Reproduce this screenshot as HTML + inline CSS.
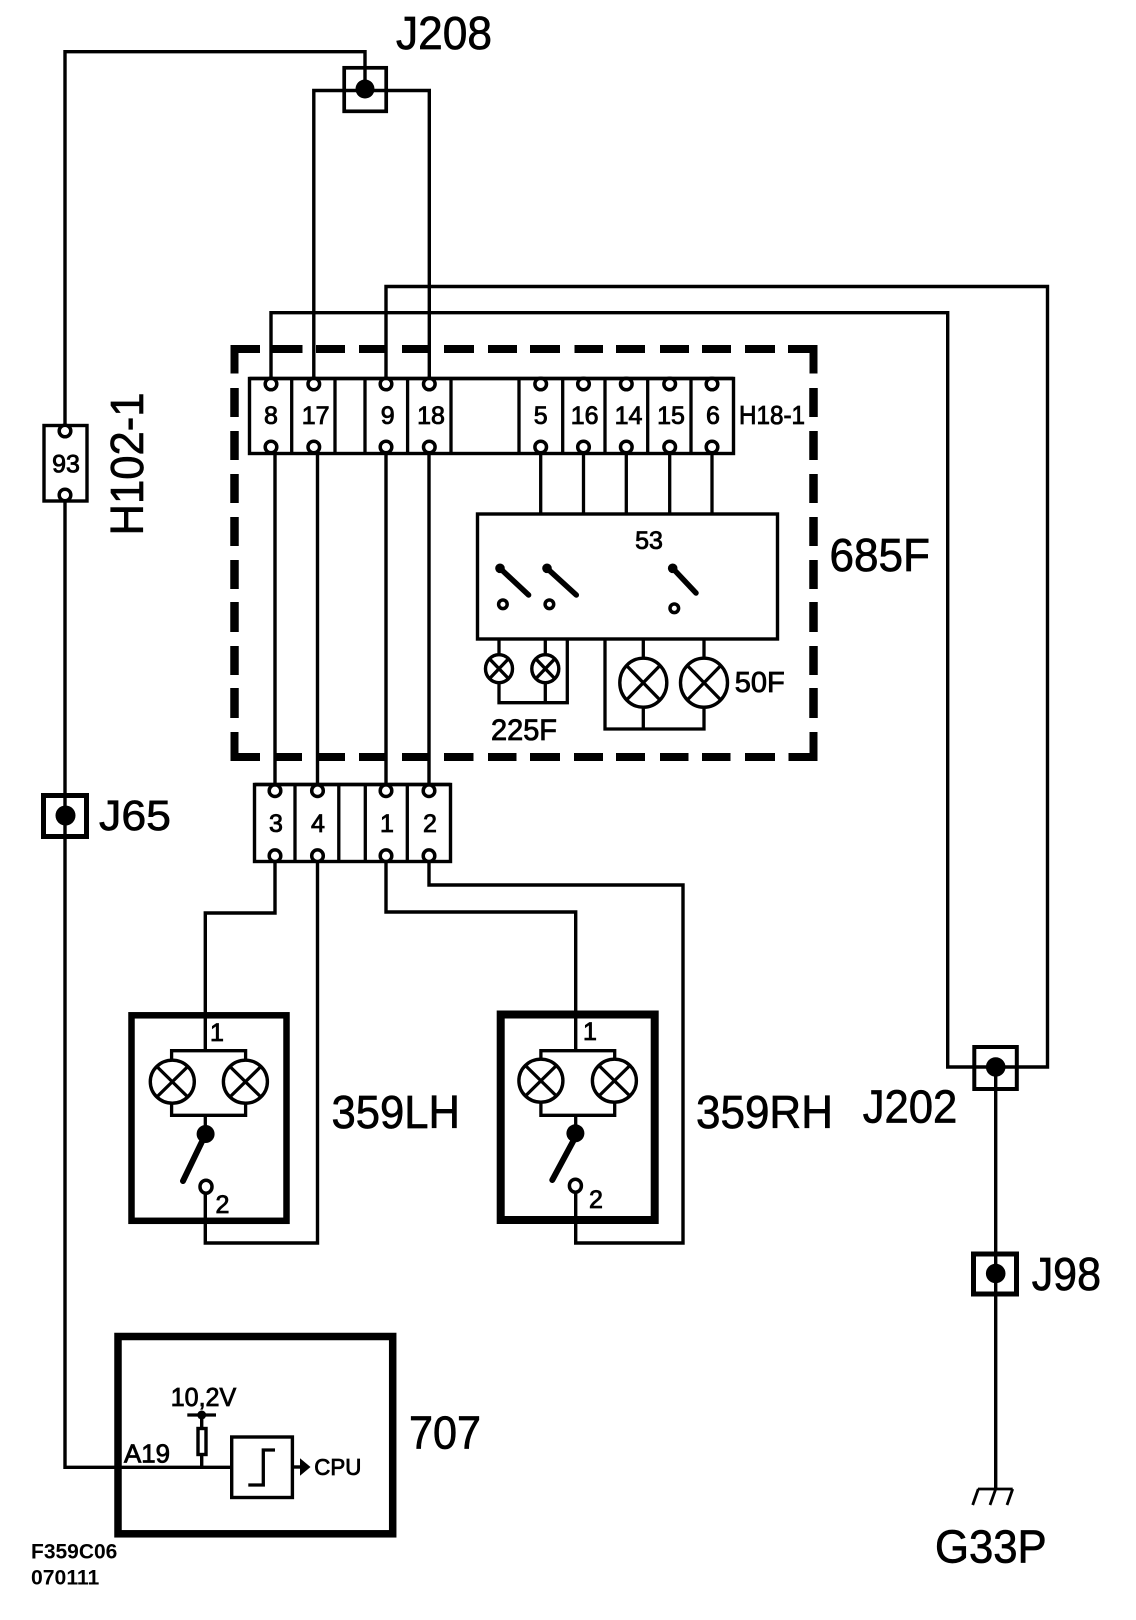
<!DOCTYPE html>
<html lang="en">
<head>
<meta charset="utf-8">
<title>F359C06</title>
<style>
html,body{margin:0;padding:0;background:#fff;width:1136px;height:1620px;overflow:hidden}
svg{display:block}
.w{fill:none;stroke:#000;stroke-width:3.4;stroke-linejoin:miter}
.t{fill:none;stroke:#000;stroke-width:3.3}
.p{fill:#fff;stroke:#000;stroke-width:3.5}
.b{fill:#fff;stroke:#000;stroke-width:3.4}
.k{fill:#000;stroke:none}
text{font-family:"Liberation Sans",sans-serif;fill:#000;stroke:#000;stroke-width:.85}
.n{font-size:25px;text-anchor:middle}
.big{font-size:46px;stroke-width:.7}
</style>
</head>
<body>
<svg xmlns="http://www.w3.org/2000/svg" width="1136" height="1620" viewBox="0 0 1136 1620">
<rect width="1136" height="1620" fill="#fff"/>

<!-- dashed boundary 685F -->
<path fill="none" stroke="#000" stroke-width="8" d="M260 349H234.500V373.500M272.500 349H302.500M316 349H345M359 349H386M402 349H431M444 349H474M488 349H517M530 349H560M574.500 349H603M616 349H645M660 349H689M702 349H731M745 349H775M788 349H813.500V373.500"/>
<path fill="none" stroke="#000" stroke-width="8.500" d="M234.500 388V417M234.500 431V460M234.500 474V503M234.500 517V546M234.500 560V589M234.500 602V632M234.500 646V675M234.500 688V718M813.500 388V417M813.500 431V460M813.500 474V503M813.500 517V546M813.500 560V589M813.500 602V632M813.500 646V675M813.500 688V718"/>
<path fill="none" stroke="#000" stroke-width="8" d="M234.500 732V757H260M276.500 757H302M317.500 757H345M359 757H387M402 757H428.500M444 757H473.500M488 757H516.500M530 757H560M574 757H603M616 757H645M660 757H688.500M702 757H730.500M745 757H775M788.500 757H813.500V732"/>

<!-- wires -->
<path class="w" d="M65 424V51.700H365V90"/>
<path class="w" d="M313.800 384V90.500H429.300V384"/>
<path class="w" d="M386 384V286.500H1047.500V1067H947.700V312.700H271V384"/>
<path class="w" d="M65 495V1467.300H230.500"/>
<path class="w" d="M275 447V790M317.500 447V790M386 447V790M429 447V790"/>
<path class="w" d="M275 855V913H205.300V1050.700M386 855V912H575.700V1050.700M429 855V885H683V1243H575.700V1186M317.500 855V1243H205.300V1186"/>
<path class="w" d="M995.700 1067V1488"/>
<path class="t" d="M540.700 447V513M583.500 447V513M626.300 447V513M669.700 447V513M712 447V513"/>

<!-- H18-1 connector -->
<rect x="249.500" y="378.500" width="484" height="75" class="b"/>
<path class="t" d="M291.700 378V454M335 378V454M365 378V454M407.600 378V454M451 378V454M519 378V454M562.700 378V454M605 378V454M647.700 378V454M691 378V454"/>
<g class="p">
<circle cx="271" cy="384" r="5.800"/><circle cx="313.800" cy="384" r="5.800"/><circle cx="386" cy="384" r="5.800"/><circle cx="429.300" cy="384" r="5.800"/><circle cx="540.700" cy="384" r="5.800"/><circle cx="583.500" cy="384" r="5.800"/><circle cx="626.300" cy="384" r="5.800"/><circle cx="669.700" cy="384" r="5.800"/><circle cx="712" cy="384" r="5.800"/>
<circle cx="271" cy="447" r="5.800"/><circle cx="313.800" cy="447" r="5.800"/><circle cx="386" cy="447" r="5.800"/><circle cx="429.300" cy="447" r="5.800"/><circle cx="540.700" cy="447" r="5.800"/><circle cx="583.500" cy="447" r="5.800"/><circle cx="626.300" cy="447" r="5.800"/><circle cx="669.700" cy="447" r="5.800"/><circle cx="712" cy="447" r="5.800"/>
</g>
<path class="w" d="M249.500 378.500H733.500"/>
<text class="n" x="271" y="424">8</text>
<text class="n" x="315.600" y="424">17</text>
<text class="n" x="387.700" y="424">9</text>
<text class="n" x="431" y="424">18</text>
<text class="n" x="540.700" y="424">5</text>
<text class="n" x="584.700" y="424">16</text>
<text class="n" x="628.500" y="424">14</text>
<text class="n" x="671" y="424">15</text>
<text class="n" x="713" y="424">6</text>
<text x="739" y="424" font-size="26" textLength="66" lengthAdjust="spacingAndGlyphs">H18-1</text>

<!-- module 53 -->
<rect x="477.500" y="514" width="300" height="125" class="b" style="fill:none"/>
<text class="n" x="649" y="549">53</text>
<g stroke="#000" stroke-width="5.500" stroke-linecap="round" fill="none">
<path d="M500 568.300L528.600 595M547 568.300L576.300 595M672.700 568.300L696 593"/>
</g>
<circle cx="500" cy="568.300" r="4.800" class="k"/><circle cx="547" cy="568.300" r="4.800" class="k"/><circle cx="672.700" cy="568.300" r="4.800" class="k"/>
<circle cx="502.900" cy="604.300" r="4.300" fill="#fff" stroke="#000" stroke-width="3.500"/><circle cx="549.400" cy="604.300" r="4.300" fill="#fff" stroke="#000" stroke-width="3.500"/><circle cx="674.300" cy="608.300" r="4.300" fill="#fff" stroke="#000" stroke-width="3.500"/>

<!-- 225F lamps -->
<path class="t" d="M499 639V702.700H567.300V639M545.300 639V702.700"/>
<g class="b"><ellipse cx="499" cy="668.700" rx="13.500" ry="14"/><ellipse cx="545.300" cy="668.700" rx="13.500" ry="14"/></g>
<path class="t" d="M489.500 658.800L508.500 678.600M508.500 658.800L489.500 678.600M535.800 658.800L554.800 678.600M554.800 658.800L535.800 678.600"/>
<!-- 50F lamps -->
<path class="t" d="M605 639V729H704V639M643.300 639V729"/>
<g class="b"><ellipse cx="643.300" cy="682.700" rx="23.500" ry="24.500"/><ellipse cx="704" cy="682.700" rx="23.500" ry="24.500"/></g>
<path class="t" d="M626.500 665.500L660 700M660 665.500L626.500 700M687.300 665.500L720.800 700M720.800 665.500L687.300 700"/>
<text x="734.700" y="692" font-size="29" textLength="50" lengthAdjust="spacingAndGlyphs">50F</text>
<text x="491" y="740" font-size="30" textLength="66" lengthAdjust="spacingAndGlyphs">225F</text>

<!-- lower connector -->
<rect x="254.500" y="784.500" width="196" height="77" class="b"/>
<path class="t" d="M295 784V862M338.800 784V862M365.300 784V862M407.300 784V862"/>
<g class="p">
<circle cx="275" cy="790.700" r="5.800"/><circle cx="317.500" cy="790.700" r="5.800"/><circle cx="386" cy="790.700" r="5.800"/><circle cx="429" cy="790.700" r="5.800"/>
<circle cx="275" cy="855.700" r="5.800"/><circle cx="317.500" cy="855.700" r="5.800"/><circle cx="386" cy="855.700" r="5.800"/><circle cx="429" cy="855.700" r="5.800"/>
</g>
<path class="w" d="M254.500 784.500H450.500"/>
<text class="n" x="276" y="832">3</text>
<text class="n" x="318" y="832">4</text>
<text class="n" x="387" y="832">1</text>
<text class="n" x="430" y="832">2</text>

<!-- J208 -->
<rect x="344.200" y="67.800" width="42" height="43.500" fill="none" stroke="#000" stroke-width="3.700"/>
<circle cx="365" cy="89" r="9.500" class="k"/>
<text class="big" x="396" y="49" textLength="96" lengthAdjust="spacingAndGlyphs">J208</text>

<!-- 93 / H102-1 -->
<rect x="44" y="425.500" width="43" height="75.500" class="b"/>
<circle cx="65" cy="431" r="5.800" class="p"/>
<circle cx="65" cy="495" r="5.800" class="p"/>
<text class="n" x="66" y="472.500">93</text>
<text class="big" transform="translate(143 535.500) rotate(-90)" textLength="143" lengthAdjust="spacingAndGlyphs">H102-1</text>

<!-- J65 -->
<rect x="43.500" y="795.500" width="43" height="41" fill="none" stroke="#000" stroke-width="5"/>
<circle cx="65.500" cy="815.500" r="10" class="k"/>
<text class="big" x="99" y="830" style="font-size:43px" textLength="72" lengthAdjust="spacingAndGlyphs">J65</text>

<!-- 359LH -->
<rect x="131.500" y="1015.300" width="155" height="205.500" fill="none" stroke="#000" stroke-width="6.500"/>
<path class="t" d="M171.600 1081V1050.700H245.600V1115.300H171.600V1081M205.300 1115.300V1134"/>
<g class="b"><ellipse cx="172.300" cy="1081.700" rx="22" ry="21.500"/><ellipse cx="245.400" cy="1081.700" rx="22" ry="21.500"/></g>
<path class="t" d="M156.800 1066.500L187.800 1097M187.800 1066.500L156.800 1097M229.900 1066.500L260.900 1097M260.900 1066.500L229.900 1097"/>
<circle cx="205.600" cy="1134" r="9" class="k"/>
<path d="M201.800 1142L183 1181" stroke="#000" stroke-width="6" stroke-linecap="round"/>
<ellipse cx="206" cy="1186.700" rx="6" ry="6.500" class="p"/>
<text class="n" x="217" y="1041">1</text>
<text class="n" x="222.500" y="1213">2</text>
<text class="big" x="331.500" y="1128" textLength="128.500" lengthAdjust="spacingAndGlyphs">359LH</text>

<!-- 359RH -->
<rect x="500.700" y="1014.500" width="154" height="205.500" fill="none" stroke="#000" stroke-width="8"/>
<path class="t" d="M540.900 1080V1050.700H614.700V1115.300H540.900V1080M575.700 1115.300V1133"/>
<g class="b"><ellipse cx="540.900" cy="1080.700" rx="22" ry="21.500"/><ellipse cx="614.400" cy="1080.700" rx="22" ry="21.500"/></g>
<path class="t" d="M525.400 1065.500L556.400 1096M556.400 1065.500L525.400 1096M598.900 1065.500L629.900 1096M629.900 1065.500L598.900 1096"/>
<circle cx="575.400" cy="1133.300" r="9" class="k"/>
<path d="M573.800 1140L552.300 1180" stroke="#000" stroke-width="6" stroke-linecap="round"/>
<ellipse cx="575.400" cy="1185.700" rx="6" ry="6.500" class="p"/>
<text class="n" x="590" y="1040">1</text>
<text class="n" x="596" y="1208">2</text>
<text class="big" x="696" y="1128" textLength="137" lengthAdjust="spacingAndGlyphs">359RH</text>

<!-- 707 -->
<rect x="118" y="1336.500" width="274.700" height="197.300" fill="none" stroke="#000" stroke-width="7.500"/>
<rect x="231.700" y="1437" width="60.700" height="60.500" class="b"/>
<path class="t" d="M248.300 1485H263.300V1450H275"/>
<path class="w" d="M292 1467H301"/>
<path class="k" d="M300 1458.300L310.500 1467L300 1475.700Z"/>
<path class="w" d="M201.700 1467V1455M201.700 1427V1415"/>
<rect x="198" y="1428.500" width="8" height="26" class="b"/>
<path class="t" d="M187.300 1415H216"/>
<circle cx="201.700" cy="1415" r="4.500" class="k"/>
<text x="170.700" y="1406" font-size="26" textLength="65.500" lengthAdjust="spacingAndGlyphs">10,2V</text>
<text x="124" y="1462.700" font-size="26" textLength="46" lengthAdjust="spacingAndGlyphs">A19</text>
<text x="314.300" y="1475" font-size="23" textLength="47" lengthAdjust="spacingAndGlyphs">CPU</text>
<text class="big" x="409" y="1448.300" textLength="72" lengthAdjust="spacingAndGlyphs">707</text>
<text x="31" y="1558.300" font-size="21" font-weight="bold" style="stroke-width:0" textLength="86.300" lengthAdjust="spacingAndGlyphs">F359C06</text>
<text x="31" y="1584.300" font-size="21" font-weight="bold" style="stroke-width:0" textLength="68.300" lengthAdjust="spacingAndGlyphs">070111</text>

<!-- J202 / J98 / G33P -->
<rect x="974.300" y="1047" width="42.500" height="42" fill="none" stroke="#000" stroke-width="4"/>
<circle cx="995.700" cy="1067" r="9.800" class="k"/>
<text class="big" x="862.700" y="1122.500" textLength="94.600" lengthAdjust="spacingAndGlyphs">J202</text>
<rect x="973.500" y="1254" width="43" height="40" fill="none" stroke="#000" stroke-width="5"/>
<circle cx="995.700" cy="1273.500" r="9.800" class="k"/>
<text class="big" x="1031.700" y="1290" textLength="69.300" lengthAdjust="spacingAndGlyphs">J98</text>
<path d="M978 1489H1012.700M978.300 1489L972.700 1505M995.700 1489L990 1505M1012.700 1489L1007 1505" fill="none" stroke="#000" stroke-width="2.800"/>
<text class="big" x="935" y="1562.500" textLength="111.700" lengthAdjust="spacingAndGlyphs">G33P</text>
<text class="big" x="829.500" y="571" textLength="100.500" lengthAdjust="spacingAndGlyphs">685F</text>
</svg>
</body>
</html>
